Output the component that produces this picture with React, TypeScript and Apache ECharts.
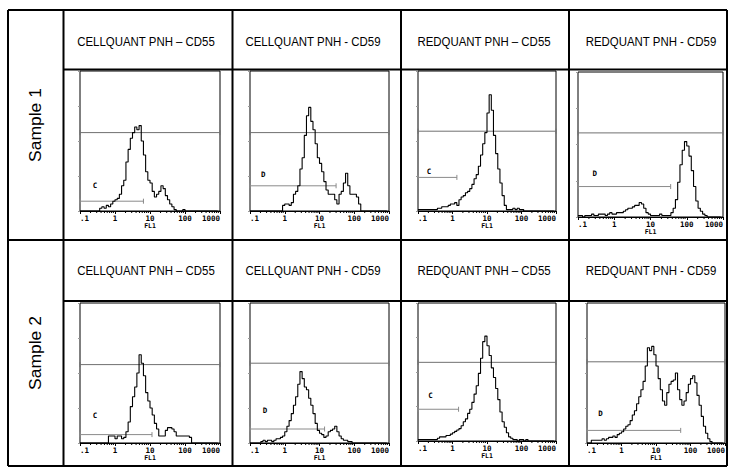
import React, { useEffect, useRef } from "react";
import * as echarts from "echarts";

// ---------- DATA ----------
const panelTitles = [
  "CELLQUANT PNH – CD55",
  "CELLQUANT PNH - CD59",
  "REDQUANT PNH – CD55",
  "REDQUANT PNH - CD59",
];
const sampleLabels = ["Sample 1", "Sample 2"];
const xTickLabels = [".1", "1", "10", "100", "1000"];
const xAxisName = "FL1";
const minorTicks = [
  0.2, 0.3, 0.4, 0.5, 0.6, 0.7, 0.8, 0.9,
  2, 3, 4, 5, 6, 7, 8, 9,
  20, 30, 40, 50, 60, 70, 80, 90,
  200, 300, 400, 500, 600, 700, 800, 900,
];

// histogram channels: 16 per decade from 0.1 to 1000 (left edges)
const channelCount = 64;
const channelsPerDecade = 16;

// counts as % of full scale, per channel
const s1CellCD55 = [
  0, 0, 0, 0, 0, 0, 0, 0, 0, 2, 3, 2, 4, 3, 5, 7,
  8, 9, 12, 18, 22, 35, 44, 52, 56, 60, 58, 61, 50, 40, 28, 22,
  20, 14, 10, 12, 14, 18, 16, 11, 8, 5, 3, 1, 0, 0, 0, 1,
  0, 0, 0, 0, 0, 0, 0, 0, 0, 0, 0, 0, 0, 0, 0, 0,
];
const s1CellCD59 = [
  0, 0, 0, 0, 0, 0, 0, 0, 0, 0, 0, 0, 0, 0, 0, 4,
  5, 5, 4, 6, 12, 14, 18, 30, 38, 54, 68, 74, 64, 58, 48, 38,
  34, 28, 21, 15, 12, 12, 12, 8, 5, 12, 14, 20, 27, 18, 12, 12,
  12, 10, 5, 0, 0, 0, 0, 0, 0, 0, 0, 0, 0, 0, 0, 0,
];
const s1RedCD55 = [
  1, 1, 1, 1, 1, 1, 1, 1, 1, 2, 2, 3, 3, 3, 4, 5,
  5, 6, 4, 8, 10, 11, 13, 14, 16, 19, 23, 26, 32, 40, 48, 56,
  70, 83, 72, 54, 41, 30, 20, 11, 4, 1, 1, 1, 2, 1, 2, 1,
  1, 0, 0, 0, 0, 0, 0, 0, 0, 0, 0, 0, 0, 0, 0, 0,
];
const s1RedCD59 = [
  1, 1, 0, 1, 1, 1, 2, 1, 1, 2, 2, 2, 1, 2, 3, 2,
  2, 3, 3, 3, 4, 5, 6, 6, 7, 8, 8, 10, 9, 6, 3, 2,
  1, 1, 1, 1, 2, 1, 1, 1, 1, 3, 6, 12, 24, 36, 46, 52,
  49, 42, 32, 21, 11, 6, 4, 2, 1, 0, 0, 0, 0, 0, 0, 0,
];
const s2CellCD55 = [
  0, 0, 0, 0, 0, 0, 0, 0, 0, 0, 0, 0, 0, 5, 5, 5,
  3, 5, 5, 3, 4, 8, 15, 26, 33, 40, 50, 63, 57, 48, 36, 30,
  25, 20, 14, 10, 5, 5, 5, 9, 11, 11, 10, 8, 5, 5, 5, 5,
  5, 5, 4, 0, 0, 0, 0, 0, 0, 0, 0, 0, 0, 0, 0, 0,
];
const s2CellCD59 = [
  0, 0, 0, 0, 0, 1, 2, 1, 2, 2, 1, 2, 3, 3, 4, 5,
  8, 12, 16, 21, 27, 33, 42, 51, 46, 40, 38, 32, 27, 21, 14, 9,
  7, 6, 4, 5, 8, 9, 10, 12, 8, 5, 3, 2, 2, 1, 1, 0,
  0, 0, 0, 0, 0, 0, 0, 0, 0, 0, 0, 0, 0, 0, 0, 0,
];
const s2RedCD55 = [
  1, 1, 1, 1, 1, 1, 1, 1, 1, 2, 3, 3, 3, 4, 4, 5,
  6, 7, 8, 9, 11, 14, 16, 20, 23, 28, 34, 40, 49, 60, 72, 76,
  69, 62, 53, 46, 38, 30, 21, 14, 10, 6, 3, 2, 1, 1, 0, 1,
  1, 0, 1, 0, 0, 0, 0, 0, 0, 0, 0, 0, 0, 0, 0, 0,
];
const s2RedCD59 = [
  0, 0, 2, 2, 2, 2, 2, 3, 2, 3, 4, 4, 5, 4, 6, 7,
  8, 10, 12, 13, 16, 20, 23, 28, 33, 38, 44, 55, 68, 66, 69, 63,
  55, 46, 38, 30, 27, 36, 42, 44, 45, 50, 38, 31, 27, 30, 36, 42,
  46, 48, 43, 34, 27, 19, 12, 7, 3, 1, 0, 0, 0, 0, 0, 0,
];

const histograms = [
  s1CellCD55, s1CellCD59, s1RedCD55, s1RedCD59,
  s2CellCD55, s2CellCD59, s2RedCD55, s2RedCD59,
];

// long gate (full range) level in %
const gateLevels = [56, 56, 57, 58, 56, 57, 57, 58];
// negative-region marker (C / D)
const markerNames = ["C", "D", "C", "D", "C", "D", "C", "D"];
const markerEnds = [6.5, 30, 1.34, 36, 11.4, 14, 1.5, 52];
const markerLevels = [7, 18, 24, 21, 6, 10, 23, 9];
const markerLabelX = [0.27, 0.24, 0.21, 0.29, 0.27, 0.27, 0.23, 0.245];
const markerLabelY = [18, 26, 28, 30, 20, 23, 33, 21];

// ---------- LAYOUT ----------
const W = 729;
const H = 467;
const panelBoxes = [
  [80, 71, 140, 140],
  [250, 71, 139, 140],
  [418, 71, 138, 140],
  [578, 72, 145, 145],
  [80, 303, 140, 140],
  [250, 303, 139, 140],
  [418, 303, 138, 138],
  [587, 303, 138, 140],
];
const colX = [8, 63.5, 232.5, 401, 569, 727];
const rowY = [10, 69.5, 240, 301, 466];
const headerCenters = [146, 313, 484, 651];
const headerRowCenters = [42, 271];
const sampleCenters = [125, 353];

const monoFont = '"DejaVu Sans Mono", "Liberation Mono", monospace';

export default function App() {
  const ref = useRef<HTMLDivElement>(null);

  useEffect(() => {
    if (!ref.current) return;
    const chart = echarts.init(ref.current, undefined, { renderer: "svg" });

    const channelX = Array.from({ length: channelCount }, (_, i) =>
      Math.pow(10, -1 + i / channelsPerDecade)
    );

    const grids: any[] = [];
    const xAxes: any[] = [];
    const yAxes: any[] = [];
    const series: any[] = [];

    panelBoxes.forEach((b, i) => {
      grids.push({
        left: b[0],
        top: b[1],
        width: b[2],
        height: b[3],
        show: true,
        borderColor: "#000",
        borderWidth: 1,
        backgroundColor: "transparent",
        containLabel: false,
      });
      xAxes.push({
        type: "log",
        logBase: 10,
        min: 0.1,
        max: 1000,
        gridIndex: i,
        axisLine: { show: true, lineStyle: { color: "#000", width: 1 } },
        axisTick: { show: true, inside: false, length: 3, lineStyle: { color: "#000", width: 1 } },
        axisLabel: {
          show: true,
          fontSize: 7.5,
          fontFamily: monoFont,
          fontWeight: "bold",
          color: "#000",
          margin: 3,
          showMinLabel: true,
          showMaxLabel: true,
          alignMinLabel: "left",
          alignMaxLabel: "right",
          formatter: (v: number) => {
            const k = Math.round(Math.log10(v)) + 1;
            return xTickLabels[k] ?? "";
          },
        },
        splitLine: { show: false },
        name: xAxisName,
        nameLocation: "middle",
        nameGap: 10,
        nameTextStyle: { fontSize: 6.5, fontFamily: monoFont, fontWeight: "bold", color: "#000" },
      });
      yAxes.push({
        type: "value",
        min: 0,
        max: 100,
        interval: 25,
        gridIndex: i,
        axisLine: { show: false },
        axisTick: { show: true, inside: false, length: 2, lineStyle: { color: "#999", width: 1 } },
        axisLabel: { show: false },
        splitLine: { show: false },
      });

      // minor log ticks
      series.push({
        type: "custom",
        coordinateSystem: "cartesian2d",
        xAxisIndex: i,
        yAxisIndex: i,
        silent: true,
        clip: false,
        data: minorTicks.map((v) => [v, 0]),
        renderItem: (_p: any, api: any) => {
          const p = api.coord([api.value(0), 0]);
          return {
            type: "line",
            shape: { x1: p[0], y1: p[1], x2: p[0], y2: p[1] + 2 },
            style: { stroke: "#000", lineWidth: 1 },
          };
        },
      });

      // histogram
      series.push({
        type: "line",
        xAxisIndex: i,
        yAxisIndex: i,
        step: "end",
        showSymbol: false,
        silent: true,
        clip: true,
        lineStyle: { color: "#000", width: 1.1 },
        data: histograms[i].map((v, k) => [channelX[k], v]),
      });

      // gates
      series.push({
        type: "custom",
        coordinateSystem: "cartesian2d",
        xAxisIndex: i,
        yAxisIndex: i,
        silent: true,
        clip: false,
        data: [
          [0.1, 1000, gateLevels[i], 0],
          [0.1, markerEnds[i], markerLevels[i], 1],
        ],
        renderItem: (_p: any, api: any) => {
          const a = api.coord([api.value(0), api.value(2)]);
          const b2 = api.coord([api.value(1), api.value(2)]);
          const kind = api.value(3);
          const color = kind === 0 ? "#707070" : "#8a8a8a";
          const h = 2.5;
          return {
            type: "group",
            children: [
              { type: "line", shape: { x1: a[0], y1: a[1], x2: b2[0], y2: b2[1] }, style: { stroke: color, lineWidth: 1 } },
              { type: "line", shape: { x1: a[0], y1: a[1] - h, x2: a[0], y2: a[1] + h }, style: { stroke: color, lineWidth: 1 } },
              { type: "line", shape: { x1: b2[0], y1: b2[1] - h, x2: b2[0], y2: b2[1] + h }, style: { stroke: color, lineWidth: 1 } },
            ],
          };
        },
      });

      // marker letter
      series.push({
        type: "custom",
        coordinateSystem: "cartesian2d",
        xAxisIndex: i,
        yAxisIndex: i,
        silent: true,
        clip: false,
        data: [[markerLabelX[i], markerLabelY[i]]],
        renderItem: (_p: any, api: any) => {
          const p = api.coord([api.value(0), api.value(1)]);
          return {
            type: "text",
            x: p[0],
            y: p[1],
            style: {
              text: markerNames[i],
              fill: "#000",
              font: `bold 7.5px ${monoFont}`,
              align: "center",
              verticalAlign: "middle",
            },
          };
        },
      });
    });

    // table graphics
    const graphics: any[] = [];
    const lineStyle = { stroke: "#000", lineWidth: 2 };
    colX.forEach((x) => {
      graphics.push({
        type: "line",
        shape: { x1: x, y1: rowY[0], x2: x, y2: rowY[4] },
        style: lineStyle,
        silent: true,
      });
    });
    rowY.forEach((y, idx) => {
      const startX = idx === 1 || idx === 3 ? colX[1] : colX[0];
      graphics.push({
        type: "line",
        shape: { x1: startX, y1: y, x2: colX[5], y2: y },
        style: lineStyle,
        silent: true,
      });
    });
    headerRowCenters.forEach((cy) => {
      panelTitles.forEach((t, c) => {
        graphics.push({
          type: "text",
          x: headerCenters[c],
          y: cy,
          scaleX: 0.88,
          silent: true,
          style: {
            text: t,
            fill: "#000",
            font: '13px "Liberation Sans", Arial, sans-serif',
            align: "center",
            verticalAlign: "middle",
          },
        });
      });
    });
    sampleLabels.forEach((s, r) => {
      graphics.push({
        type: "text",
        x: 35.5,
        y: sampleCenters[r],
        rotation: Math.PI / 2,
        scaleY: 0.89,
        silent: true,
        style: {
          text: s,
          fill: "#000",
          font: '17.5px "Liberation Sans", Arial, sans-serif',
          align: "center",
          verticalAlign: "middle",
        },
      });
    });

    chart.setOption({
      animation: false,
      backgroundColor: "#fff",
      grid: grids,
      xAxis: xAxes,
      yAxis: yAxes,
      series,
      graphic: graphics,
    });

    return () => chart.dispose();
  }, []);

  return (
    <div
      ref={ref}
      style={{ position: "fixed", left: 0, top: 0, width: W, height: H, background: "#fff" }}
    />
  );
}
